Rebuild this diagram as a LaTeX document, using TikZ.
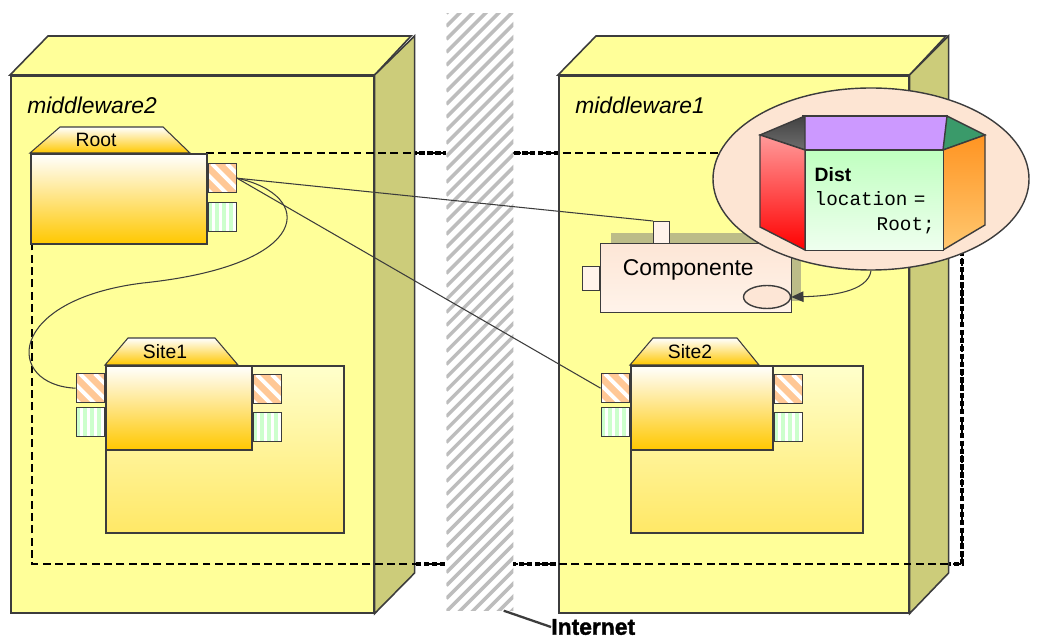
\documentclass[tikz,border=0pt]{standalone}
\usepackage{fontspec}
\setmainfont{Liberation Sans}
\setmonofont{Liberation Mono}
\newfontfamily\heavyfont[FakeBold=1.6]{Liberation Sans Bold}
\usetikzlibrary{arrows.meta, calc, positioning, shapes.geometric}

\definecolor{nodeyellow}{HTML}{FFFF99}
\definecolor{nodeside}{HTML}{CCCC7A}
\definecolor{edgegray}{HTML}{3C3C3C}
\definecolor{partgold}{HTML}{FFC800}
\definecolor{areatop}{HTML}{FFFFCC}
\definecolor{areabottom}{HTML}{FFE866}
\definecolor{portorange}{HTML}{FFC896}
\definecolor{portgreen}{HTML}{CCFFCC}
\definecolor{compfill}{HTML}{FDE6D6}
\definecolor{complight}{HTML}{FFF3EA}
\definecolor{compshadow}{HTML}{BCBC88}
\definecolor{calloutfill}{HTML}{FDE5D3}
\definecolor{hatchgray}{HTML}{BDBDBD}
\definecolor{prismtop}{HTML}{CC99FF}
\definecolor{prismgray}{HTML}{6E6E6E}
\definecolor{prismgreen}{HTML}{3A9A6A}
\definecolor{redtop}{HTML}{FF9A9A}
\definecolor{redbottom}{HTML}{FF0000}
\definecolor{orangetop}{HTML}{FF9422}
\definecolor{orangebottom}{HTML}{FFC870}
\definecolor{facetop}{HTML}{C0FFC0}
\definecolor{facebottom}{HTML}{EFFFEF}

\newcommand{\unitpx}{0.02cm}

\begin{document}
\begin{tikzpicture}[
	x=0.02cm, y=-0.02cm,
	every node/.style={font=\fontsize{11}{13}\selectfont},
	box/.style={draw=edgegray, line width=0.9pt, fill=nodeyellow, anchor=north west, inner sep=0pt},
	boxside/.style={draw=edgegray, line width=0.9pt, fill=nodeside},
	boxtop/.style={draw=edgegray, line width=0.9pt, fill=nodeyellow},
	boxlabel/.style={font=\fontsize{13}{15}\selectfont\itshape, anchor=north west, inner sep=0pt},
	part/.style={draw=edgegray, line width=0.9pt, top color=white, bottom color=partgold, anchor=north west, inner sep=0pt},
	tab/.style={draw=edgegray, line width=0.6pt, top color=white, bottom color=partgold},
	area/.style={draw=edgegray, line width=0.9pt, top color=areatop, bottom color=areabottom, anchor=north west, inner sep=0pt},
	porto/.style={draw=edgegray, line width=0.8pt, fill=portorange, inner sep=0pt,
		minimum width=28*\unitpx, minimum height=29*\unitpx,
		path picture={\foreach \k in {-3,...,2}
			\draw[white, line width=2.2pt] ([xshift=\k*8.5pt+2pt]path picture bounding box.north west) -- ++(1cm,-1cm);}},
	portg/.style={draw=edgegray, line width=0.8pt, fill=portgreen, inner sep=0pt,
		minimum width=28*\unitpx, minimum height=29*\unitpx,
		path picture={\foreach \k in {1,...,4}
			\draw[white, line width=1.6pt] ([xshift=\k*4pt-1pt]path picture bounding box.north west) -- ([xshift=\k*4pt-1pt]path picture bounding box.south west);}},
	comp/.style={draw=edgegray, line width=0.8pt, top color=compfill, bottom color=complight, anchor=north west, inner sep=0pt},
	compport/.style={draw=edgegray, line width=0.8pt, fill=complight, anchor=north west, inner sep=0pt},
	wire/.style={draw=edgegray, line width=0.6pt},
	frame/.style={draw=black, dash pattern=on 4.5pt off 2.5pt, line width=0.8pt},
	framethick/.style={draw=black, dash pattern=on 3pt off 1.5pt, line width=1.8pt},
	facet/.style={draw=edgegray, line width=0.8pt}
]
\useasboundingbox[fill=white] (0,0) rectangle (1037,644);

% heavy layer of the frame, only seen outside the nodes
\draw[framethick] (206,153) -- (962,153) -- (962,564) -- (32,564) -- (32,243);

% node middleware2
\node[box, minimum width=363*\unitpx, minimum height=537*\unitpx] (mw2) at (10,75) {};
\draw[boxtop] (mw2.north west) -- ++(38,-39) -- ++(363,0) -- (mw2.north east) -- cycle;
\draw[boxside] (mw2.north east) -- ++(40,-39) -- ++(0,537) -- (mw2.south east) -- cycle;
\node[boxlabel] (mw2label) at ([shift={(17,22)}]mw2.north west) {middleware2};

% node middleware1
\node[box, minimum width=350*\unitpx, minimum height=537*\unitpx] (mw1) at (558,75) {};
\draw[boxtop] (mw1.north west) -- ++(38,-39) -- ++(350,0) -- (mw1.north east) -- cycle;
\draw[boxside] (mw1.north east) -- ++(39,-39) -- ++(0,537) -- (mw1.south east) -- cycle;
\node[boxlabel] (mw1label) at ([shift={(17,22)}]mw1.north west) {middleware1};

% thin layer of the frame
\draw[frame] (206,153) -- (962,153) -- (962,564) -- (32,564) -- (32,243);

% Root
\node[part, minimum width=176*\unitpx, minimum height=90*\unitpx] (root) at (30,153) {};
\draw[tab] (root.north west) -- ++(30,-26) -- ++(103,0) -- ++(27,26) -- cycle;
\node (rootlabel) at (96,140) {Root};
\node[porto, anchor=north west] (rootPo) at ([yshift=-10*\unitpx]root.north east) {};
\node[portg, anchor=north west] (rootPg) at ([yshift=-49*\unitpx]root.north east) {};

% Site1
\node[area, minimum width=238*\unitpx, minimum height=167*\unitpx] (site1area) at (105,365) {};
\node[part, minimum width=146*\unitpx, minimum height=84*\unitpx] (site1) at (105,365) {};
\draw[tab] (site1.north west) -- ++(23,-27) -- ++(87,0) -- ++(23,27) -- cycle;
\node (site1label) at (165,352) {Site1};
\node[porto, anchor=north east] (s1PoL) at ([yshift=-8*\unitpx]site1.north west) {};
\node[portg, anchor=north east] (s1PgL) at ([yshift=-42*\unitpx]site1.north west) {};
\node[porto, anchor=north west] (s1PoR) at ([yshift=-9*\unitpx]site1.north east) {};
\node[portg, anchor=north west] (s1PgR) at ([yshift=-47*\unitpx]site1.north east) {};

% Site2
\node[area, minimum width=232*\unitpx, minimum height=167*\unitpx] (site2area) at (630,365) {};
\node[part, minimum width=142*\unitpx, minimum height=84*\unitpx] (site2) at (630,365) {};
\draw[tab] (site2.north west) -- ++(23,-27) -- ++(84,0) -- ++(22,27) -- cycle;
\node (site2label) at (690,352) {Site2};
\node[porto, anchor=north east] (s2PoL) at ([yshift=-8*\unitpx]site2.north west) {};
\node[portg, anchor=north east] (s2PgL) at ([yshift=-42*\unitpx]site2.north west) {};
\node[porto, anchor=north west] (s2PoR) at ([yshift=-9*\unitpx]site2.north east) {};
\node[portg, anchor=north west] (s2PgR) at ([yshift=-47*\unitpx]site2.north east) {};

% Componente with its shadow
\fill[compshadow] (611,233) rectangle (801,301);
\node[comp, minimum width=191*\unitpx, minimum height=69*\unitpx] (comp) at (600,243) {};
\node[font=\fontsize{13}{15}\selectfont] (complabel) at ([shift={(-8,-8)}]comp.center) {Componente};
\node[compport, minimum width=16*\unitpx, minimum height=22*\unitpx] (compTop) at (653,221) {};
\node[compport, anchor=north east, minimum width=17*\unitpx, minimum height=24*\unitpx] (compLeft) at (600,266) {};
\node[ellipse, draw=edgegray, line width=0.8pt, fill=compfill, minimum width=47*\unitpx, minimum height=23*\unitpx, inner sep=0pt] (compEll) at (767,297) {};

% Internet
\node[fill=white, anchor=north west, inner sep=0pt, minimum width=67*\unitpx, minimum height=597*\unitpx,
	path picture={\foreach \k in {0,...,52}
		\draw[hatchgray, line width=2pt] ([yshift=-\k*7.4pt]path picture bounding box.north west) -- ++(1.5cm,1.5cm);}] (band) at (446,13) {};
\coordinate (bandfoot) at ([xshift=-10*\unitpx]band.south east);
\node[font=\fontsize{13}{15}\selectfont\heavyfont, anchor=west, inner sep=0pt] (inet) at (551,627) {Internet};
\draw[edgegray, line width=1.3pt] (bandfoot) -- (inet.west);

% links from Root
\draw[wire] (rootPo.east) -- (compTop.north west);
\draw[wire] (rootPo.east) -- (s2PoL.west);
\draw[wire] (rootPo.east) .. controls (315,195) and (315,265) .. (143,283)
	.. controls (5,300) and (5,385) .. (s1PoL.west);

% callout with the Dist prism
\node[ellipse, draw=edgegray, line width=0.8pt, fill=calloutfill, minimum width=316*\unitpx, minimum height=182*\unitpx, inner sep=0pt] (callout) at (871,179) {};
\draw[facet, fill=prismtop] (803,116) rectangle (947,150);
\draw[facet, top color=prismgray!60!black, bottom color=prismgray] (760,135) -- (805,116) -- (805,150) -- cycle;
\draw[facet, fill=prismgreen] (947,116) -- (985,135) -- (943,150) -- cycle;
\draw[facet, top color=redtop, bottom color=redbottom] (760,135) -- (805,150) -- (805,250) -- (760,227) -- cycle;
\draw[facet, top color=orangetop, bottom color=orangebottom] (943,150) -- (985,135) -- (985,225) -- (943,250) -- cycle;
\node[facet, top color=facetop, bottom color=facebottom, anchor=north west, inner sep=0pt,
	minimum width=138*\unitpx, minimum height=100*\unitpx, text width=120*\unitpx, align=left,
	font=\fontsize{11}{14}\selectfont] (dist) at (805,150)
	{\textbf{Dist}\\\texttt{location =}\\\hspace*{\fill}\texttt{Root;}};
\draw[wire, -{Triangle[length=7pt, width=6pt]}] (callout.south) .. controls (868,292) and (830,296) .. (compEll.east);

\end{tikzpicture}
\end{document}
